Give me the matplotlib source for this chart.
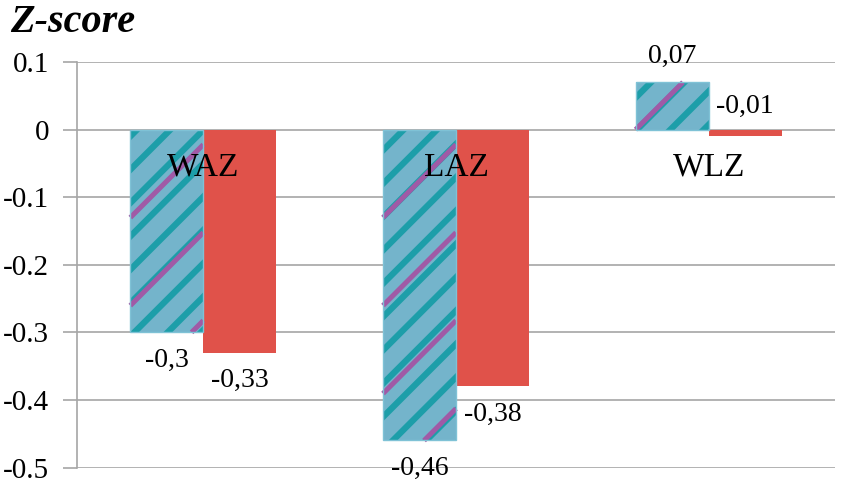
import matplotlib.pyplot as plt
import numpy as np

# datos
categorias = ['WAZ', 'LAZ', 'WLZ']
serie_a = [-0.30, -0.46, 0.07]
serie_b = [-0.33, -0.38, -0.01]
etiquetas_a = ['-0,3', '-0,46', '0,07']
etiquetas_b = ['-0,33', '-0,38', '-0,01']
ticks_y = [0.1, 0, -0.1, -0.2, -0.3, -0.4, -0.5]
ticks_txt = ['0.1', '0', '-0.1', '-0.2', '-0.3', '-0.4', '-0.5']

plt.rcParams['font.family'] = ['Liberation Serif', 'DejaVu Serif']
plt.rcParams['hatch.linewidth'] = 4.5

fig = plt.figure(figsize=(8.41, 4.82), dpi=100)
ax = fig.add_axes([77 / 841, 1 - 467.5 / 482, (835 - 77) / 841, (467.5 - 62) / 482])
ax.set_xlim(-0.5, 2.5)
ax.set_ylim(-0.5, 0.1)

x = np.arange(len(categorias))
ancho = 0.289

# barras con rayas
barras = ax.bar(x - ancho / 2, serie_a, ancho, color='#74b4cb', edgecolor='#1d9ea9',
                hatch='/', linewidth=0, zorder=3)
ax.bar(x + ancho / 2, serie_b, ancho, color='#e0524a', linewidth=0, zorder=3)

# rayas magenta (mas separadas), recortadas a mano a cada barra, 45 grados en pantalla
px_x = 3 / 758
px_y = 0.6 / 405.5
pend = px_y / px_x
for b in barras:
    bx0, bx1 = b.get_x(), b.get_x() + b.get_width()
    by0, by1 = sorted([b.get_y(), b.get_y() + b.get_height()])
    for k in range(-12, 12):
        y0 = k * 88 * px_y  # recta: y = y0 + pend * (x - bx0)
        xa = max(bx0, bx0 + (by0 - y0) / pend)
        xb = min(bx1, bx0 + (by1 - y0) / pend)
        if xb <= xa:
            continue
        ax.plot([xa, xb], [y0 + pend * (xa - bx0), y0 + pend * (xb - bx0)],
                color='#a05aa6', linewidth=3.6, zorder=3.5, solid_capstyle='butt')

ax.bar(x - ancho / 2, serie_a, ancho, color='none', edgecolor='#7fc2d6',
       linewidth=1, zorder=4)

ax.set_xlim(-0.5, 2.5)
ax.set_ylim(-0.5, 0.1)
ax.set_yticks(ticks_y)
ax.set_yticklabels(ticks_txt, fontsize=21)
ax.set_xticks([])
ax.tick_params(axis='y', length=10, color='#a6a6a6', width=1.2, pad=10)
ax.yaxis.grid(True, color='#a6a6a6', linewidth=1.2, zorder=0)
ax.set_axisbelow(True)
for s in ['top', 'right', 'bottom']:
    ax.spines[s].set_visible(False)
ax.spines['left'].set_color('#a6a6a6')
ax.spines['left'].set_linewidth(1.2)

# nombres de categoria dentro del grafico
for i, c in enumerate(categorias):
    ax.text(i, -0.056, c, ha='center', va='center', fontsize=24, zorder=5)

# etiquetas de valores
for i in range(len(categorias)):
    va = serie_a[i]
    ya = va - 0.042 if va < 0 else va + 0.039
    ax.text(x[i] - ancho / 2, ya, etiquetas_a[i], ha='center', va='center', fontsize=20, zorder=5)
    vb = serie_b[i]
    yb = vb + 0.044 if i == 2 else vb - 0.041
    ax.text(x[i] + ancho / 2, yb, etiquetas_b[i], ha='center', va='center', fontsize=20, zorder=5)

fig.text(10 / 841, 1 - 22 / 482, 'Z-score', fontsize=29, fontweight='bold', fontstyle='italic',
         ha='left', va='center')

fig.savefig('out.png', dpi=100)
